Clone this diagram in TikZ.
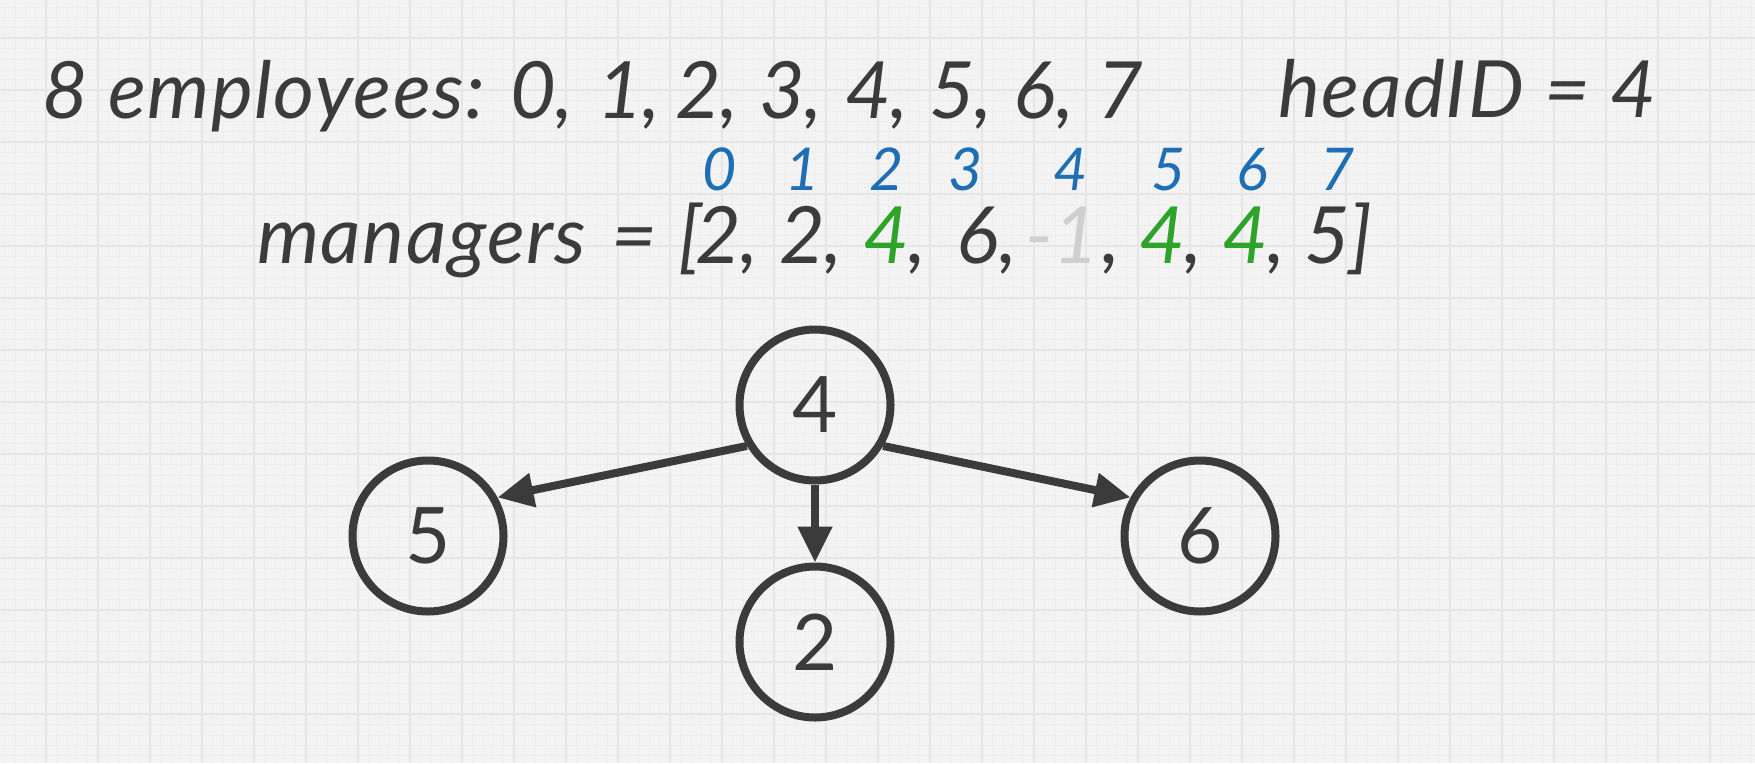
\documentclass[tikz,border=0pt]{standalone}
\usepackage{fontspec}
\setmainfont{Lato}
\newfontfamily\textfam{Lato}
\usetikzlibrary{arrows.meta}
\definecolor{ink}{HTML}{3B3B3B}
\definecolor{idxblue}{HTML}{1D6EB2}
\definecolor{mgrgreen}{HTML}{2EA32A}
\definecolor{faded}{HTML}{CFCFCF}
\definecolor{paper}{HTML}{F3F3F3}
\definecolor{gridmajor}{HTML}{E6E6E6}
\definecolor{gridminor}{HTML}{EEEEEE}
\tikzset{
  bigtext/.style={inner sep=0pt, text=ink,
    font=\textfam\fontsize{79}{90}\selectfont\itshape},
  word/.style={bigtext, anchor=base west,
    font=\textfam\fontsize{79}{90}\selectfont\itshape\addfontfeature{LetterSpace=2}},
  item/.style={bigtext, anchor=base},
  idxtext/.style={anchor=base, inner sep=0pt, text=idxblue,
    font=\textfam\fontsize{59}{70}\selectfont\itshape},
  emp/.style={circle, draw=ink, line width=8pt, minimum size=151pt,
    inner sep=0pt, text=ink, font=\textfam\fontsize{78}{90}\selectfont},
  reports/.style={draw=ink, line width=8pt,
    -{Triangle[length=36pt,width=33pt]}},
}
\begin{document}
\begin{tikzpicture}[x=1pt,y=-1pt]
  % paper background with a square grid
  \fill[paper] (0,0) rectangle (1755,763);
  \useasboundingbox (0,0) rectangle (1755,763);
  \foreach \i in {0,...,170} {
    \draw[gridminor, line width=0.6pt] ({-6+10.4*\i},0) -- ++(0,763);
  }
  \foreach \i in {0,...,75} {
    \draw[gridminor, line width=0.6pt] (0,{-14+10.4*\i}) -- ++(1755,0);
  }
  \foreach \i in {0,...,34} {
    \draw[gridmajor, line width=1.6pt] ({-6+52*\i},0) -- ++(0,763);
  }
  \foreach \i in {0,...,15} {
    \draw[gridmajor, line width=1.6pt] (0,{-14+52*\i}) -- ++(1755,0);
  }

  % problem statement: employee ids
  \node[word] (count) at (42,118) {8 employees:};
  \node[item] (e0) at (533,118) {0\rlap{,}};
  \node[item] (e1) at (620,118) {1\rlap{,}};
  \node[item] (e2) at (698,118) {2\rlap{,}};
  \node[item] (e3) at (782,118) {3\rlap{,}};
  \node[item] (e4) at (868,118) {4\rlap{,}};
  \node[item] (e5) at (952,118) {5\rlap{,}};
  \node[item] (e6) at (1035,118) {6\rlap{,}};
  \node[item] (e7) at (1120,118) {7};
  \node[word] (head) at (1278,117) {headID = 4};

  % array indices
  \node[idxtext] (i0) at (720,190) {0};
  \node[idxtext] (i1) at (803,190) {1};
  \node[idxtext] (i2) at (887,190) {2};
  \node[idxtext] (i3) at (966,190) {3};
  \node[idxtext] (i4) at (1071,190) {4};
  \node[idxtext] (i5) at (1169,190) {5};
  \node[idxtext] (i6) at (1252,190) {6};
  \node[idxtext] (i7) at (1338,190) {7};

  % managers array
  \node[word] (mgr) at (257,263) {managers};
  \node[item] (eq) at (634,263) {=};
  \node[item] (lb) at (690,263) {[};
  \node[item] (m0) at (718,263) {2\rlap{,}};
  \node[item] (m1) at (802,263) {2\rlap{,}};
  \node[item, text=mgrgreen] (m2) at (886,263) {4\rlap{\textcolor{ink}{,}}};
  \node[item] (m3) at (978,263) {6\rlap{,}};
  \node[item, text=faded] (m4) at (1076,263) {\llap{-}1\rlap{\textcolor{ink}{\hspace{4pt},}}};
  \node[item, text=mgrgreen] (m5) at (1162,263) {4\rlap{\textcolor{ink}{,}}};
  \node[item, text=mgrgreen] (m6) at (1245,263) {4\rlap{\textcolor{ink}{,}}};
  \node[item] (m7) at (1327,263) {5\rlap{]}};

  % tree rooted at the head
  \node[emp] (n4) at (815,405) {4};
  \node[emp] (n5) at (428,536) {5};
  \node[emp] (n2) at (815,642) {2};
  \node[emp] (n6) at (1200,536) {6};

  \draw[reports] (n4.211) -- (n5.29);
  \draw[reports] (n4.south) -- (n2.north);
  \draw[reports] (n4.-31) -- (n6.151);
\end{tikzpicture}
\end{document}
